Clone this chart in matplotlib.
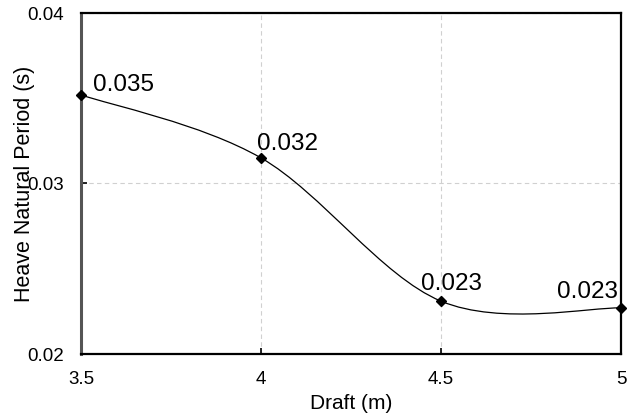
import numpy as np
import matplotlib
matplotlib.use("Agg")
import matplotlib.pyplot as plt
from matplotlib.path import Path
from matplotlib.patches import PathPatch

plt.rcParams["font.family"] = ["Liberation Sans", "DejaVu Sans"]

# データ
draft = [3.5, 4.0, 4.5, 5.0]
period = [0.0352, 0.0315, 0.0231, 0.0227]
point_labels = ["0.035", "0.032", "0.023", "0.023"]
label_offsets = [(12, 10), (-4, 14), (-20, 17), (-64, 16)]  # pixels

x_ticks = [3.5, 4, 4.5, 5]
x_ticklabels = ["3.5", "4", "4.5", "5"]
y_ticks = [0.02, 0.03, 0.04]
y_ticklabels = ["0.02", "0.03", "0.04"]

fig = plt.figure(figsize=(6.29, 4.15), dpi=100)
ax = fig.add_axes([81 / 629, 1 - 354 / 415, 540 / 629, 341 / 415])
ax.set_xlim(3.5, 5)
ax.set_ylim(0.02, 0.04)


def excel_smooth(xs, ys):
    # Excel 風の平滑化線 (Catmull-Rom -> Bezier), 軸比率座標で計算
    x0, x1 = ax.get_xlim()
    y0, y1 = ax.get_ylim()
    p = np.column_stack([(np.array(xs) - x0) / (x1 - x0),
                         (np.array(ys) - y0) / (y1 - y0)])
    n = len(p)
    verts = [p[0]]
    codes = [Path.MOVETO]
    for i in range(n - 1):
        pm = p[i - 1] if i > 0 else p[i]
        pp = p[i + 2] if i + 2 < n else p[i + 1]
        c1 = p[i] + (p[i + 1] - pm) / 6
        c2 = p[i + 1] - (pp - p[i]) / 6
        verts += [c1, c2, p[i + 1]]
        codes += [Path.CURVE4] * 3
    return Path(verts, codes)


ax.add_patch(PathPatch(excel_smooth(draft, period), transform=ax.transAxes,
                       fill=False, edgecolor="black", linewidth=0.9, zorder=3))
ax.plot(draft, period, linestyle="none", marker="D", markersize=5,
        color="black", zorder=4, clip_on=False)

for xv, yv, lab, off in zip(draft, period, point_labels, label_offsets):
    ax.annotate(lab, (xv, yv), xytext=off, textcoords="offset pixels",
                ha="left", va="center", fontsize=17.5, zorder=5)

ax.set_xticks(x_ticks)
ax.set_xticklabels(x_ticklabels)
ax.set_yticks(y_ticks)
ax.set_yticklabels(y_ticklabels)
ax.tick_params(direction="in", length=4, width=1.2, labelsize=13.5,
               colors="black")
ax.tick_params(axis="x", pad=12)
ax.tick_params(axis="y", pad=12)

ax.grid(True, color="#d0d0d0", linestyle=(0, (4, 3)), linewidth=0.8)
ax.set_axisbelow(True)

for side in ["top", "right", "bottom"]:
    ax.spines[side].set_color("black")
    ax.spines[side].set_linewidth(1.6)
ax.spines["left"].set_color("#555555")
ax.spines["left"].set_linewidth(2.2)

ax.set_xlabel("Draft (m)", fontsize=15)
ax.set_ylabel("Heave Natural Period (s)", fontsize=15.5)
ax.xaxis.set_label_coords(0.5, -(394 - 354) / 341)
ax.yaxis.set_label_coords(-(81 - 35) / 540, 0.5)

fig.savefig("out.png", dpi=100)
